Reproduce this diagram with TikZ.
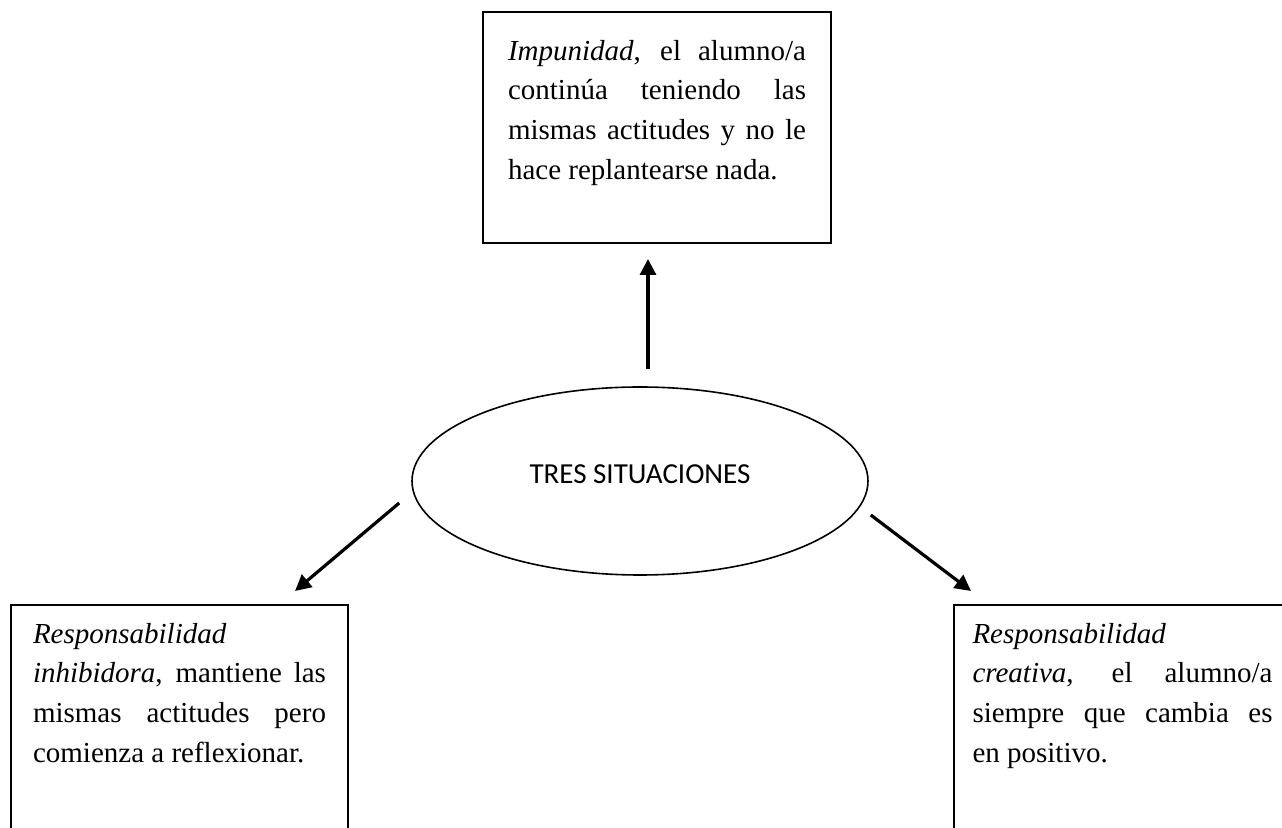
\documentclass[tikz,border=0pt]{standalone}
\usepackage{fontspec}
\setmainfont{Liberation Serif}
\newfontfamily\calibri{Carlito}
\usetikzlibrary{arrows.meta,calc,shapes.geometric}

% text of a box: height, width, text
\newcommand{\cuadro}[3]{\parbox[c][#1][t]{#2}{\fontsize{14.5}{19.8}\selectfont\tolerance=9999 #3}}

\begin{document}
\begin{tikzpicture}[x=0.5pt,y=-0.5pt,
  caja/.style={draw,rectangle,line width=1pt,inner ysep=#1},
  situacion/.style={ellipse,draw,line width=0.8pt,minimum width=228pt,minimum height=94pt,
    inner sep=0pt,text depth=7pt,font=\calibri\fontsize{14.5}{17}\selectfont},
  flecha/.style={-{Triangle[length=8pt,width=8pt]},line width=1.6pt}]
\useasboundingbox (0,0) rectangle (1282,828);
\clip (0,0) rectangle (1282,828);

\node[situacion] (tres) at (640,481) {TRES SITUACIONES};

\node[caja=14.1pt,inner xsep=12.5pt] (impunidad) at (657,127.5)
  {\cuadro{87.3pt}{149pt}{\textit{Impunidad}, el alumno/a\linebreak
   continúa teniendo las\linebreak mismas actitudes y no le\linebreak
   hace replantearse nada.}};

% bottom boxes run past the lower edge
\node[caja=9.1pt,inner xsep=11pt] (inhibidora) at (179.5,730)
  {\cuadro{106.8pt}{146.5pt}{\textit{Responsabilidad}\newline
   \textit{inhibidora}, mantiene las\linebreak mismas actitudes pero\linebreak
   comienza a reflexionar.}};
\node[caja=9.1pt,inner xsep=9.25pt] (creativa) at (1122.5,730)
  {\cuadro{106.8pt}{150pt}{\textit{Responsabilidad}\newline
   \textit{creativa}, el alumno/a\linebreak siempre que cambia es\linebreak
   en positivo.}};

\draw[flecha] ($(tres.north)+(8,-17)$) -- ($(impunidad.south)+(-9,15)$);
\draw[flecha] ($(tres.west)+(-12,22)$) -- ($(inhibidora.north east)+(-54,-13)$);
\draw[flecha] ($(tres.east)+(2,34)$) -- ($(creativa.north west)+(18,-13)$);

\end{tikzpicture}
\end{document}
